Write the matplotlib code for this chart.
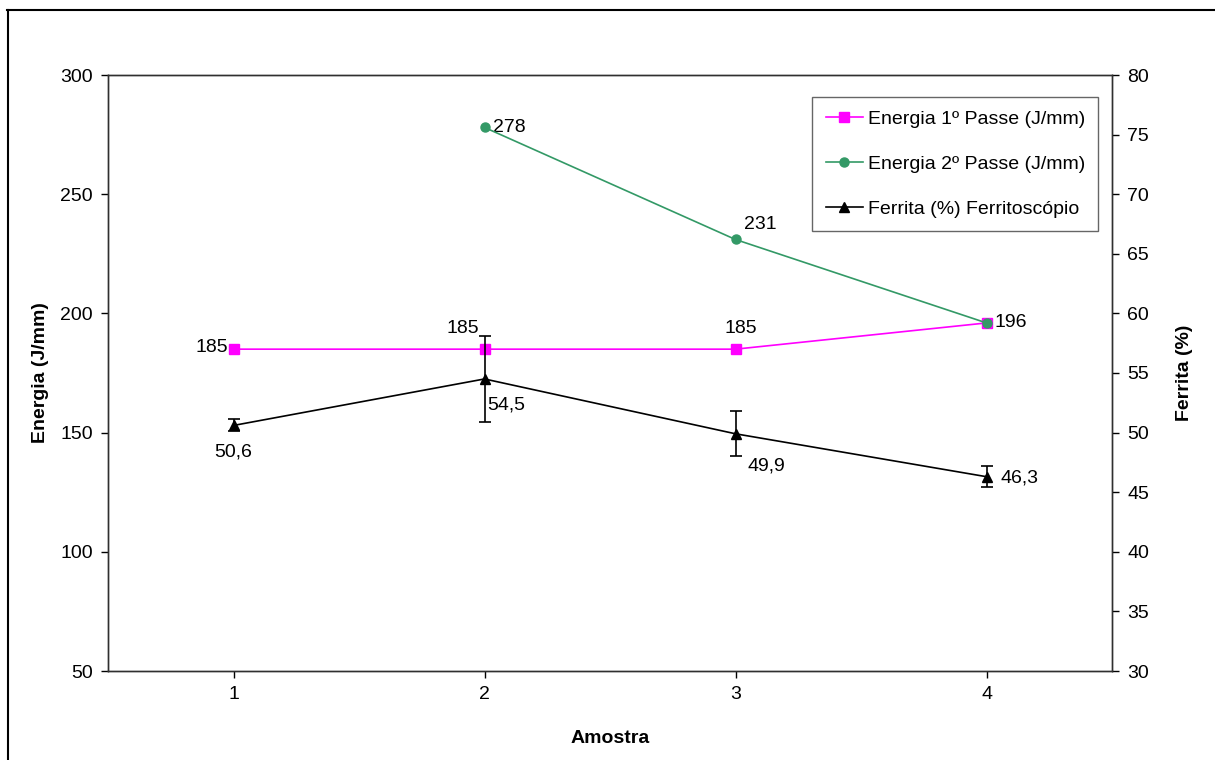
import matplotlib
matplotlib.use("Agg")
import matplotlib.pyplot as plt
from matplotlib.lines import Line2D

plt.rcParams['font.family'] = ['Liberation Sans', 'DejaVu Sans']

amostra = [1, 2, 3, 4]
energia1 = [185, 185, 185, 196]
amostra2 = [2, 3, 4]
energia2 = [278, 231, 196]
ferrita = [50.6, 54.5, 49.9, 46.3]
ferrita_err = [0.5, 3.6, 1.9, 0.9]
xticks = [1, 2, 3, 4]

fig = plt.figure(figsize=(12.15, 7.6), dpi=100)
ax = fig.add_axes([108/1215, 1-671/760, (1112-108)/1215, (671-75)/760])
ax2 = ax.twinx()

l1, = ax.plot(amostra, energia1, color='#FF00FF', marker='s', markersize=6.5, lw=1.2,
              label='Energia 1º Passe (J/mm)', zorder=3)
l2, = ax.plot(amostra2, energia2, color='#339966', marker='o', markersize=6.5, lw=1.2,
              label='Energia 2º Passe (J/mm)', zorder=4)
ax2.errorbar(amostra, ferrita, yerr=ferrita_err, color='black', marker='^', markersize=7.5,
             lw=1.2, capsize=4, elinewidth=1.2, capthick=1.2)
l3 = Line2D([], [], color='black', marker='^', markersize=7.5, lw=1.2,
            label='Ferrita (%) Ferritoscópio')

ax.set_xlim(0.5, 4.5)
ax.set_ylim(50, 300)
ax2.set_ylim(30, 80)
ax.set_xticks(xticks)
ax.set_xticklabels([str(v) for v in xticks])
ax.set_yticks(range(50, 301, 50))
ax2.set_yticks(range(30, 81, 5))

fs = 14
for a in (ax, ax2):
    a.tick_params(labelsize=fs, direction='out', length=5, width=1, pad=6)
    for s in a.spines.values():
        s.set_color('#303030')
        s.set_linewidth(1)

ax.set_xlabel('Amostra', fontsize=14, fontweight='bold', labelpad=19)
ax.set_ylabel('Energia (J/mm)', fontsize=14, fontweight='bold', labelpad=8)
ax2.set_ylabel('Ferrita (%)', fontsize=14, fontweight='bold', labelpad=19)

def lab(a, x, y, txt, dx, dy, ha='center', va='center'):
    a.annotate(txt, (x, y), xytext=(dx, dy), textcoords='offset points',
               fontsize=fs, ha=ha, va=va)

lab(ax, 1, 185, '185', -4, 1, ha='right')
lab(ax, 2, 185, '185', -4, 15, ha='right')
lab(ax, 3, 185, '185', 4, 15)
lab(ax, 4, 196, '196', 6, 0, ha='left')
lab(ax, 2, 278, '278', 6, 0, ha='left')
lab(ax, 3, 231, '231', 6, 11, ha='left')
lab(ax2, 1, 50.6, '50,6', 0, -19)
lab(ax2, 2, 54.5, '54,5', 2, -19, ha='left')
lab(ax2, 3, 49.9, '49,9', 9, -23, ha='left')
lab(ax2, 4, 46.3, '46,3', 10, -1, ha='left')

leg = ax2.legend(handles=[l1, l2, l3], loc='upper right', bbox_to_anchor=(0.9865, 0.9635),
                 fontsize=14, frameon=True, fancybox=False, edgecolor='#404040',
                 handlelength=1.9, labelspacing=1.4, borderpad=0.7, handletextpad=0.25,
                 borderaxespad=0)
leg.get_frame().set_linewidth(1)

# outer chart border (top and left visible)
fig.add_artist(Line2D([7/1215, 1.0], [1-10/760, 1-10/760], transform=fig.transFigure,
                      color='black', lw=1.5))
fig.add_artist(Line2D([7.5/1215, 7.5/1215], [0.0, 1-10/760], transform=fig.transFigure,
                      color='black', lw=1.5))

fig.savefig('out.png', dpi=100)
